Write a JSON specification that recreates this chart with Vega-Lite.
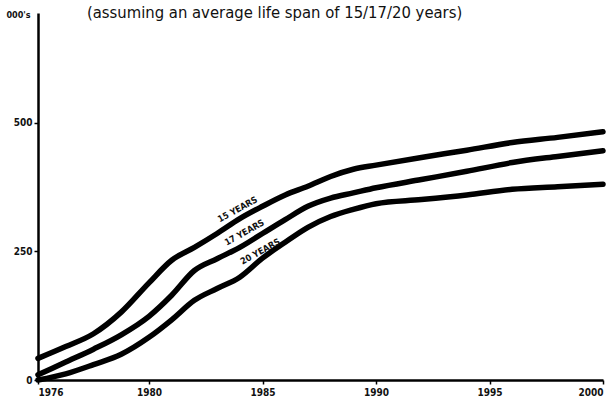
{
  "$schema": "https://vega.github.io/schema/vega-lite/v6.json",
  "autosize": "none",
  "width": 565,
  "height": 367,
  "padding": {"left": 38, "top": 13, "right": 10, "bottom": 27},
  "background": "white",
  "config": {
    "view": {"stroke": null},
    "font": "Liberation Sans Narrow, DejaVu Sans Condensed, sans-serif"
  },
  "title": {
    "text": "(assuming an average life span of 15/17/20 years)",
    "anchor": "start",
    "dx": 81,
    "offset": -11,
    "fontSize": 16.5,
    "fontWeight": 500,
    "color": "#111",
    "font": "Liberation Sans Narrow, DejaVu Sans Condensed, sans-serif"
  },
  "datasets": {
    "lines": [
      {"year": 1976, "value": 42, "series": "15"},
      {"year": 1977, "value": 65, "series": "15"},
      {"year": 1978, "value": 90, "series": "15"},
      {"year": 1979, "value": 132, "series": "15"},
      {"year": 1980, "value": 189, "series": "15"},
      {"year": 1981, "value": 233, "series": "15"},
      {"year": 1982, "value": 258, "series": "15"},
      {"year": 1983, "value": 285, "series": "15"},
      {"year": 1984, "value": 314, "series": "15"},
      {"year": 1985, "value": 338, "series": "15"},
      {"year": 1986, "value": 360, "series": "15"},
      {"year": 1987, "value": 377, "series": "15"},
      {"year": 1988, "value": 396, "series": "15"},
      {"year": 1989, "value": 410, "series": "15"},
      {"year": 1990, "value": 418, "series": "15"},
      {"year": 1992, "value": 433, "series": "15"},
      {"year": 1994, "value": 447, "series": "15"},
      {"year": 1996, "value": 462, "series": "15"},
      {"year": 1998, "value": 472, "series": "15"},
      {"year": 2000, "value": 483, "series": "15"},
      {"year": 1976, "value": 10, "series": "17"},
      {"year": 1977, "value": 35, "series": "17"},
      {"year": 1978, "value": 60, "series": "17"},
      {"year": 1979, "value": 88, "series": "17"},
      {"year": 1980, "value": 124, "series": "17"},
      {"year": 1981, "value": 165, "series": "17"},
      {"year": 1982, "value": 213, "series": "17"},
      {"year": 1983, "value": 236, "series": "17"},
      {"year": 1984, "value": 258, "series": "17"},
      {"year": 1985, "value": 285, "series": "17"},
      {"year": 1986, "value": 312, "series": "17"},
      {"year": 1987, "value": 338, "series": "17"},
      {"year": 1988, "value": 354, "series": "17"},
      {"year": 1989, "value": 364, "series": "17"},
      {"year": 1990, "value": 374, "series": "17"},
      {"year": 1992, "value": 390, "series": "17"},
      {"year": 1994, "value": 406, "series": "17"},
      {"year": 1996, "value": 423, "series": "17"},
      {"year": 1998, "value": 435, "series": "17"},
      {"year": 2000, "value": 446, "series": "17"},
      {"year": 1976, "value": 0, "series": "20"},
      {"year": 1977, "value": 12, "series": "20"},
      {"year": 1978, "value": 30, "series": "20"},
      {"year": 1979, "value": 50, "series": "20"},
      {"year": 1980, "value": 83, "series": "20"},
      {"year": 1981, "value": 117, "series": "20"},
      {"year": 1982, "value": 155, "series": "20"},
      {"year": 1983, "value": 178, "series": "20"},
      {"year": 1984, "value": 200, "series": "20"},
      {"year": 1985, "value": 237, "series": "20"},
      {"year": 1986, "value": 268, "series": "20"},
      {"year": 1987, "value": 297, "series": "20"},
      {"year": 1988, "value": 318, "series": "20"},
      {"year": 1989, "value": 332, "series": "20"},
      {"year": 1990, "value": 343, "series": "20"},
      {"year": 1992, "value": 351, "series": "20"},
      {"year": 1994, "value": 360, "series": "20"},
      {"year": 1996, "value": 371, "series": "20"},
      {"year": 1998, "value": 376, "series": "20"},
      {"year": 2000, "value": 381, "series": "20"}
    ],
    "labels": [
      {"year": 1983.9, "value": 332, "label": "15 YEARS"},
      {"year": 1984.2, "value": 287, "label": "17 YEARS"},
      {"year": 1984.9, "value": 250, "label": "20 YEARS"}
    ]
  },
  "layer": [
    {
      "data": {"name": "lines"},
      "mark": {"type": "line", "color": "#000", "strokeWidth": 5.5, "interpolate": "monotone", "strokeCap": "round"},
      "encoding": {
        "x": {
          "field": "year", "type": "quantitative",
          "scale": {"domain": [1976, 1980, 2000], "range": [0, 111, 565], "nice": false, "zero": false},
          "axis": {
            "title": null, "values": [1976, 1980, 1985, 1990, 1995, 2000], "format": "d",
            "grid": false, "domainColor": "#000", "domainWidth": 2.5, "tickColor": "#000", "tickWidth": 1.5, "tickSize": 4,
            "labelFontSize": 10, "labelColor": "#111", "labelFontWeight": "bold", "labelPadding": 3
          }
        },
        "y": {
          "field": "value", "type": "quantitative",
          "scale": {"domain": [0, 714], "nice": false},
          "axis": {
            "title": "000's", "titleAngle": 0, "titleX": -20, "titleY": 1, "titleAlign": "center", "titleBaseline": "middle",
            "titleFontSize": 9, "titleFontWeight": "bold", "titleColor": "#111",
            "values": [0, 250, 500], "grid": false, "domainColor": "#000", "domainWidth": 2.5,
            "tickColor": "#000", "tickWidth": 1.5, "tickSize": 4,
            "labelFontSize": 10, "labelColor": "#111", "labelFontWeight": "bold", "labelPadding": 2
          }
        },
        "detail": {"field": "series", "type": "nominal"}
      }
    },
    {
      "data": {"name": "labels"},
      "mark": {"type": "text", "angle": -29, "fontSize": 9, "fontWeight": "bold", "color": "#111", "align": "center", "baseline": "middle"},
      "encoding": {
        "x": {"field": "year", "type": "quantitative"},
        "y": {"field": "value", "type": "quantitative"},
        "text": {"field": "label"}
      }
    }
  ]
}
